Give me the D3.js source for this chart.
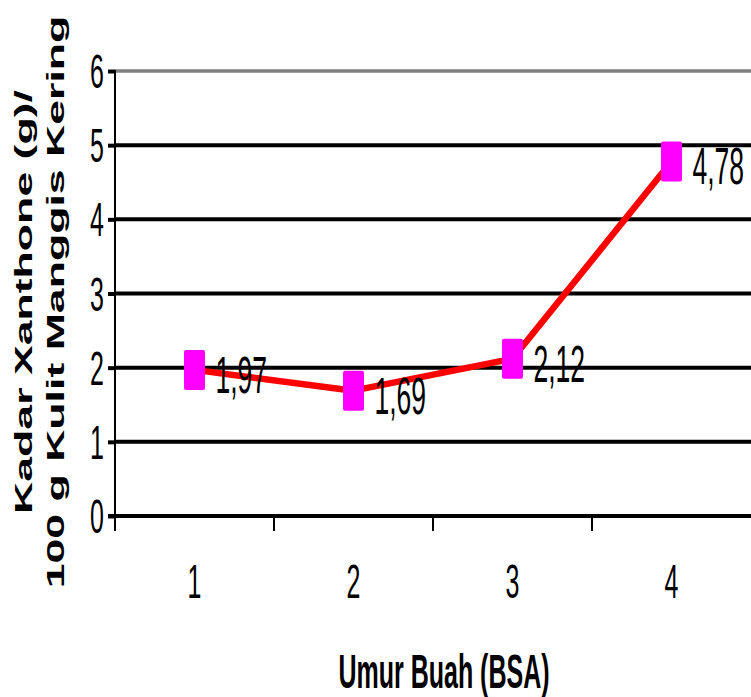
<!DOCTYPE html>
<html>
<head>
<meta charset="utf-8">
<script src="https://cdn.jsdelivr.net/npm/d3@7/dist/d3.min.js"></script>
<style>
  html, body { margin: 0; padding: 0; background: #fff; }
  svg { display: block; }
  text { font-family: "Liberation Sans", Arial, sans-serif; fill: #000; }
</style>
</head>
<body>
<svg id="chart" width="751" height="697"></svg>
<script>
// Xanthone content per fruit age
const categories = ["1", "2", "3", "4"];
const values = [1.97, 1.69, 2.12, 4.78];
const valueLabels = ["1,97", "1,69", "2,12", "4,78"];
const yTicks = [0, 1, 2, 3, 4, 5, 6];
const xTitle = "Umur Buah (BSA)";
const yTitleLines = ["Kadar Xanthone (g)/", "100 g Kulit Manggis Kering"];

const svg = d3.select("#chart");
const plotLeft = 115, plotRight = 751, plotTop = 71, plotBottom = 516;
const stretch = 1.92; // tall, narrow lettering

const x = d3.scaleBand().domain(categories).range([plotLeft, plotRight]).padding(0);
const y = d3.scaleLinear().domain([0, 6]).range([plotBottom, plotTop]);

// horizontal gridlines (top one grey)
svg.append("g").selectAll("line").data(yTicks.filter(d => d > 0)).join("line")
  .attr("x1", plotLeft).attr("x2", plotRight)
  .attr("y1", d => y(d)).attr("y2", d => y(d))
  .attr("stroke", d => d === 6 ? "#808080" : "#000")
  .attr("stroke-width", d => d === 6 ? 3.5 : 4);

// y axis
const yAxis = svg.append("g").attr("transform", `translate(${plotLeft},0)`)
  .call(d3.axisLeft(y).tickValues(yTicks).tickSize(7).tickFormat(""));
yAxis.select(".domain").remove();
yAxis.selectAll(".tick line").attr("stroke", "#000").attr("stroke-width", 4);
svg.append("line").attr("x1", plotLeft).attr("x2", plotLeft)
  .attr("y1", plotTop - 1).attr("y2", plotBottom + 15)
  .attr("stroke", "#000").attr("stroke-width", 2);

// y tick labels
svg.append("g").selectAll("text").data(yTicks).join("text")
  .attr("transform", d => `translate(104,${y(d) + 17}) scale(1,${stretch})`)
  .attr("text-anchor", "end")
  .attr("font-size", 25)
  .text(d => d);

// x axis
svg.append("line").attr("x1", plotLeft - 7).attr("x2", plotRight)
  .attr("y1", plotBottom).attr("y2", plotBottom)
  .attr("stroke", "#000").attr("stroke-width", 4);
const boundaries = categories.map(c => x(c));
svg.append("g").selectAll("line").data(boundaries).join("line")
  .attr("x1", d => d).attr("x2", d => d)
  .attr("y1", plotBottom).attr("y2", plotBottom + 15)
  .attr("stroke", "#000").attr("stroke-width", 2);

// x tick labels
svg.append("g").selectAll("text").data(categories).join("text")
  .attr("transform", d => `translate(${x(d) + x.bandwidth() / 2},598) scale(1,${stretch})`)
  .attr("text-anchor", "middle")
  .attr("font-size", 25)
  .text(d => d);

// axis titles
svg.append("text")
  .attr("transform", `translate(444,688) scale(1,${stretch})`)
  .attr("text-anchor", "middle")
  .attr("font-size", 25).attr("font-weight", "bold")
  .text(xTitle);

svg.append("g").selectAll("text").data(yTitleLines).join("text")
  .attr("transform", (d, i) => `translate(${i === 0 ? 32 : 64},302) scale(1,1.9) rotate(-90)`)
  .attr("text-anchor", "middle")
  .attr("font-size", 23.5).attr("font-weight", "bold")
  .text(d => d);

// series line
const pts = categories.map((c, i) => [x(c) + x.bandwidth() / 2, y(values[i])]);
svg.append("path")
  .attr("d", d3.line()(pts))
  .attr("fill", "none").attr("stroke", "#ff0000")
  .attr("stroke-width", 6.5).attr("stroke-linejoin", "round");

// markers
svg.append("g").selectAll("rect").data(pts).join("rect")
  .attr("x", d => d[0] - 10.5).attr("y", d => d[1] - 20)
  .attr("width", 21).attr("height", 40).attr("rx", 2)
  .attr("fill", "#ff00ff");

// value labels
svg.append("g").selectAll("text").data(pts).join("text")
  .attr("transform", (d, i) => `translate(${d[0] + 21},${d[1] + 23}) scale(1,1.95)`)
  .attr("font-size", 26.5)
  .text((d, i) => valueLabels[i]);
</script>
</body>
</html>
